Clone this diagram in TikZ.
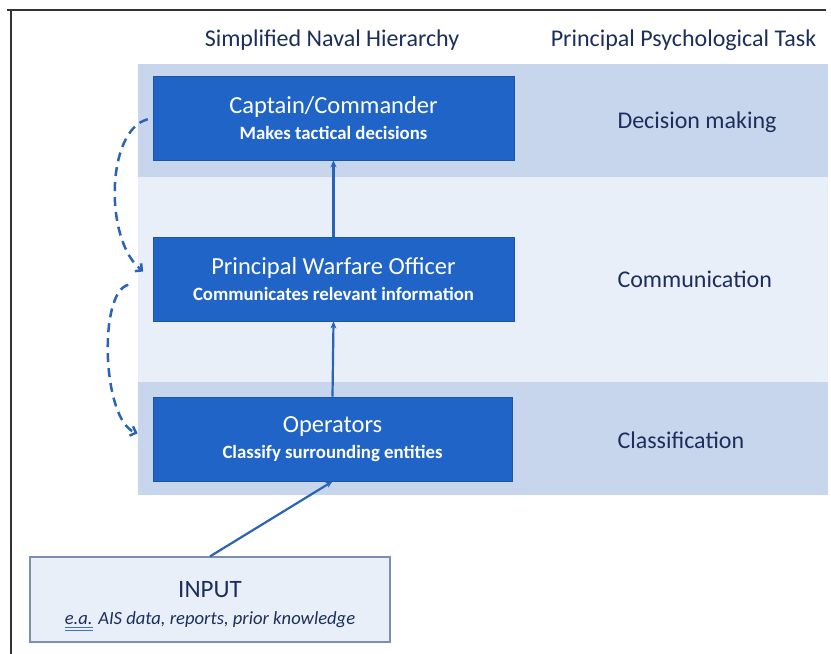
\documentclass[tikz,border=0pt]{standalone}
\usepackage{fontspec}
\setmainfont{Carlito}
\usetikzlibrary{arrows.meta,calc}
\definecolor{boxblue}{HTML}{1F64C6}
\definecolor{boxedge}{HTML}{1A55A8}
\definecolor{banddark}{HTML}{C7D6EC}
\definecolor{bandlight}{HTML}{E9EFF9}
\definecolor{navy}{HTML}{1C2F5C}
\definecolor{arrowblue}{HTML}{2A63B8}
\definecolor{inpfill}{HTML}{E9EFF9}
\definecolor{inpedge}{HTML}{7B8FAE}
\definecolor{frame}{HTML}{333333}
\definecolor{ulblue}{HTML}{3F6FD0}
\newlength\ealen
\newcommand\eaul[1]{\settowidth{\ealen}{#1}\rlap{\textcolor{ulblue}{\rule[-3.5pt]{\ealen}{1.1pt}}}\rlap{\textcolor{ulblue}{\rule[-6.5pt]{\ealen}{1.1pt}}}#1}
\newcommand\ttl[1]{{\fontsize{24.5}{26}\selectfont #1}}
\newcommand\sub[1]{{\fontsize{18.8}{26}\selectfont\bfseries #1}}
\tikzset{
  rolebox/.style={draw=boxedge, line width=0.8pt, fill=boxblue, text=white, minimum width=361pt, minimum height=84pt, inner sep=0pt, align=center, font=\fontsize{18}{26}\selectfont},
  tasklbl/.style={text=navy, anchor=west, font=\fontsize{24}{28}\selectfont},
  header/.style={text=navy, font=\fontsize{24}{28}\selectfont},
  uparrow/.style={draw=arrowblue, line width=2.2pt, -{Stealth[length=7pt,width=6pt]}},
  dasharrow/.style={draw=arrowblue, line width=2.5pt, dash pattern=on 9pt off 6pt, -{Straight Barb[length=5pt,width=10pt]}},
}
\begin{document}
\begin{tikzpicture}[x=1pt,y=-1pt]
\useasboundingbox (0,0) rectangle (831,654);
% frame
\draw[frame, line width=1.2pt] (7,10) -- (826,10);
\draw[frame, line width=1.2pt] (11,10) -- (11,654);
% bands
\fill[banddark] (138,64) rectangle (828,177);
\fill[bandlight] (138,177) rectangle (828,382);
\fill[banddark] (138,382) rectangle (828,495);
% headers
\node[header] (h1) at (332,40) {Simplified Naval Hierarchy};
\node[header] (h2) at (683.5,40) {Principal Psychological Task};
% role boxes
\node[rolebox] (cap) at (333.5,118) {\ttl{Captain/Commander}\\\sub{Makes tactical decisions}};
\node[rolebox] (pwo) at (333.5,279) {\ttl{Principal Warfare Officer}\\\sub{Communicates relevant information}};
\node[rolebox, minimum width=359pt] (ops) at (332.5,439) {\ttl{Operators}\\\sub{Classify surrounding entities}};
% task labels
\node[tasklbl] (t1) at (614,122) {Decision making};
\node[tasklbl] (t2) at (614,279) {Communication};
\node[tasklbl] (t3) at (614,440) {Classification};
% input box
\node[draw=inpedge, line width=1.2pt, fill=inpfill, minimum width=360pt, minimum height=85pt, inner sep=0pt, align=center, text=navy, font=\fontsize{18}{27}\selectfont] (inp) at (210,599.5)
  {\rule{0pt}{29pt}{\fontsize{25}{27}\selectfont INPUT}\\{\fontsize{18.6}{27}\selectfont\itshape \eaul{e.a.} AIS data, reports, prior knowledge}};
% arrows
\draw[uparrow] (ops.north) -- (pwo.south);
\draw[uparrow] (pwo.north) -- (cap.south);
\draw[uparrow] (inp.north) -- (ops.south);
% dashed feedback arrows
\draw[dasharrow, shorten <=5pt, shorten >=12pt] (cap.west) .. controls (106,130) and (104,240) .. (pwo.west);
\draw[dasharrow, shorten <=25pt, shorten >=16pt] (pwo.west) .. controls (98,292) and (102,420) .. (ops.west);
\end{tikzpicture}
\end{document}
